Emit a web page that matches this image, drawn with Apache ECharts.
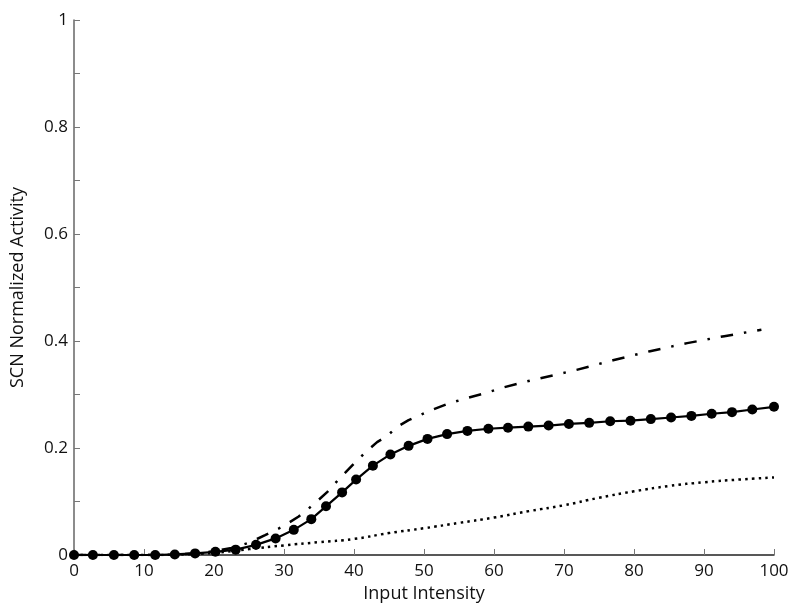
<!DOCTYPE html>
<html>
<head>
<meta charset="utf-8">
<script src="https://cdn.jsdelivr.net/npm/echarts@6/dist/echarts.min.js"></script>
<style>
  html, body { margin: 0; padding: 0; background: #fff; }
  #chart { width: 799px; height: 610px; }
</style>
</head>
<body>
<div id="chart"></div>
<script>
// solid curve with circle markers: [input intensity, activity]
const solidPoints = [
  [0, 0], [2.7, 0], [5.7, 0], [8.6, 0], [11.6, 0], [14.4, 0.001],
  [17.3, 0.003], [20.2, 0.006], [23.1, 0.01], [26.0, 0.019], [28.8, 0.031],
  [31.4, 0.047], [33.9, 0.067], [36.0, 0.091], [38.3, 0.117], [40.3, 0.141],
  [42.7, 0.167], [45.2, 0.188], [47.8, 0.204], [50.5, 0.217], [53.3, 0.226],
  [56.2, 0.232], [59.2, 0.236], [62.0, 0.238], [64.9, 0.240], [67.8, 0.242],
  [70.7, 0.245], [73.6, 0.247], [76.6, 0.250], [79.5, 0.251], [82.4, 0.254],
  [85.3, 0.257], [88.2, 0.260], [91.1, 0.264], [94.0, 0.267], [96.9, 0.272],
  [100, 0.277]
];

// dash-dot curve
const dashDotPoints = [
  [0, 0], [10, 0], [15, 0.001], [18, 0.004], [20, 0.007], [22.5, 0.013],
  [25, 0.023], [27.3, 0.037], [29.8, 0.053], [32.1, 0.072], [34.2, 0.094],
  [36.2, 0.118], [38.0, 0.144], [40.0, 0.171], [41.8, 0.194], [43.3, 0.211],
  [44.7, 0.222], [46.1, 0.239], [47.8, 0.252], [49.2, 0.260], [50.9, 0.270],
  [53.5, 0.283], [56.3, 0.294], [58.9, 0.303], [61.3, 0.313], [64.2, 0.323],
  [71.8, 0.346], [77.0, 0.364], [82.3, 0.381], [87.6, 0.396], [92.9, 0.409],
  [98.2, 0.421]
];

// dotted curve
const dottedPoints = [
  [0, 0], [10, 0], [15, 0.001], [20, 0.004], [25, 0.011], [30, 0.018],
  [35, 0.024], [40, 0.030], [45, 0.041], [50, 0.050], [55, 0.060],
  [60, 0.070], [65, 0.082], [70, 0.093], [75, 0.107], [80, 0.119],
  [85, 0.129], [90, 0.136], [95, 0.141], [100, 0.145]
];

const xTicks = [0, 10, 20, 30, 40, 50, 60, 70, 80, 90, 100];
const yLabelled = [0, 0.2, 0.4, 0.6, 0.8, 1];

const font = "'Open Sans', 'Noto Sans', sans-serif";

const chart = echarts.init(document.getElementById("chart"));

const option = {
  backgroundColor: "#fff",
  animation: false,
  grid: { left: 74, right: 25, top: 20, bottom: 55 },
  xAxis: {
    type: "value",
    min: xTicks[0],
    max: xTicks[xTicks.length - 1],
    interval: 10,
    name: "Input Intensity",
    nameLocation: "middle",
    nameGap: 29,
    nameTextStyle: { fontFamily: font, fontSize: 18, color: "#111" },
    axisLine: { lineStyle: { color: "#222", width: 1.5 } },
    axisTick: { inside: true, length: 6, lineStyle: { color: "#777" } },
    axisLabel: { fontFamily: font, fontSize: 17, color: "#111", margin: 8 },
    splitLine: { show: false }
  },
  yAxis: {
    type: "value",
    min: 0,
    max: 1,
    interval: 0.1,
    name: "SCN Normalized Activity",
    nameLocation: "middle",
    nameGap: 47,
    nameTextStyle: { fontFamily: font, fontSize: 18, color: "#111" },
    axisLine: { show: true, lineStyle: { color: "#666", width: 1.5 } },
    axisTick: { show: true, inside: true, length: 6, lineStyle: { color: "#777" } },
    axisLabel: {
      fontFamily: font, fontSize: 17, color: "#111", margin: 6,
      formatter: function (v) {
        const hit = yLabelled.find(t => Math.abs(t - v) < 1e-6);
        return hit === undefined ? "" : String(hit);
      }
    },
    splitLine: { show: false }
  },
  series: [
    {
      name: "dotted",
      type: "line",
      data: dottedPoints,
      smooth: true,
      showSymbol: false,
      lineStyle: { color: "#000", width: 2.5, type: [2.5, 4.2] }
    },
    {
      name: "dash-dot",
      type: "line",
      data: dashDotPoints,
      showSymbol: false,
      lineStyle: { color: "#000", width: 2.5, type: [12.5, 11, 2.5, 11] }
    },
    {
      name: "solid",
      type: "line",
      data: solidPoints,
      symbol: "circle",
      symbolSize: 10,
      itemStyle: { color: "#000" },
      lineStyle: { color: "#000", width: 2.2 }
    }
  ]
};

chart.setOption(option);
</script>
</body>
</html>
